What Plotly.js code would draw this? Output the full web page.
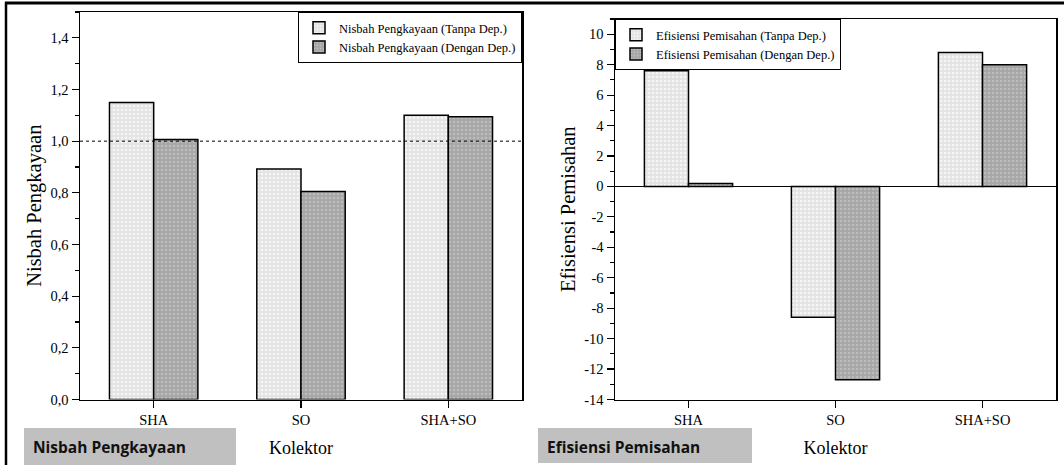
<!DOCTYPE html>
<html>
<head>
<meta charset="utf-8">
<script src="https://cdn.plot.ly/plotly-3.0.1.min.js"></script>
<style>
  html, body { margin: 0; padding: 0; background: #ffffff; }
  #chart { width: 1064px; height: 465px; }
</style>
</head>
<body>
<div id="chart"></div>
<script>
// Collector categories shared by both panels
const categories = ['SHA', 'SO', 'SHA+SO'];

// Enrichment ratio (Nisbah Pengkayaan)
const enrichNoDep = [1.150, 0.892, 1.100];
const enrichWithDep = [1.006, 0.805, 1.095];

// Separation efficiency (Efisiensi Pemisahan)
const effNoDep = [7.6, -8.6, 8.8];
const effWithDep = [0.2, -12.7, 8.0];

// Tick labels
const ratioTickVals = [0, 0.2, 0.4, 0.6, 0.8, 1.0, 1.2, 1.4];
const ratioTickText = ['0,0', '0,2', '0,4', '0,6', '0,8', '1,0', '1,2', '1,4'];
const effTickVals = [-14, -12, -10, -8, -6, -4, -2, 0, 2, 4, 6, 8, 10];
const effTickText = ['-14', '-12', '-10', '-8', '-6', '-4', '-2', '0', '2', '4', '6', '8', '10'];

// Reference level for the enrichment ratio
const ratioReference = 1.0;

// Page geometry (margins are zero, so paper coords map straight to pixels)
const W = 1064, H = 465;
const px = v => v / W;
const py = v => 1 - v / H;

const SERIF = 'Liberation Serif';
const lightFill = { bgcolor: '#e3e3e3', fgcolor: '#f6f6f6', shape: '.', size: 4, solidity: 0.35 };
const darkFill = { bgcolor: '#a6a6a6', fgcolor: '#bdbdbd', shape: '.', size: 4, solidity: 0.35 };

const traces = [
  { type: 'bar', name: 'Nisbah Pengkayaan (Tanpa Dep.)', x: categories, y: enrichNoDep,
    xaxis: 'x', yaxis: 'y', legend: 'legend',
    marker: { color: '#e3e3e3', pattern: lightFill, line: { color: '#000', width: 1.5 } } },
  { type: 'bar', name: 'Nisbah Pengkayaan (Dengan Dep.)', x: categories, y: enrichWithDep,
    xaxis: 'x', yaxis: 'y', legend: 'legend',
    marker: { color: '#a6a6a6', pattern: darkFill, line: { color: '#000', width: 1.5 } } },
  { type: 'bar', name: 'Efisiensi Pemisahan (Tanpa Dep.)', x: categories, y: effNoDep,
    xaxis: 'x2', yaxis: 'y2', legend: 'legend2',
    marker: { color: '#e3e3e3', pattern: lightFill, line: { color: '#000', width: 1.5 } } },
  { type: 'bar', name: 'Efisiensi Pemisahan (Dengan Dep.)', x: categories, y: effWithDep,
    xaxis: 'x2', yaxis: 'y2', legend: 'legend2',
    marker: { color: '#a6a6a6', pattern: darkFill, line: { color: '#000', width: 1.5 } } }
];

const tickFont = { family: SERIF, size: 14.5, color: '#000' };
const legendFont = { family: SERIF, size: 12.5, color: '#000' };
const titleFont = { family: SERIF, size: 20.5, color: '#000' };

function catAxis(domain, anchor) {
  return {
    domain: domain, anchor: anchor, type: 'category', range: [-0.5, 2.5],
    showline: true, linecolor: '#000', linewidth: 1.5, mirror: true,
    ticks: 'outside', ticklen: 7, tickwidth: 1.2, tickcolor: '#000',
    showgrid: false, zeroline: false, fixedrange: true,
    tickfont: tickFont,
    title: { text: 'Kolektor', font: { family: SERIF, size: 18, color: '#000' }, standoff: 14 }
  };
}

// Boundary ticks between categories, drawn by an overlaid linear axis
function boundaryAxis(over, anchor, domain) {
  return {
    overlaying: over, anchor: anchor, domain: domain, type: 'linear', range: [-0.5, 2.5],
    tickmode: 'array', tickvals: [0.5, 1.5], ticks: 'outside', ticklen: 4, tickwidth: 1.2,
    tickcolor: '#000', showticklabels: false, showline: false, showgrid: false, zeroline: false,
    fixedrange: true
  };
}

const xDom1 = [px(80), px(522)];
const xDom2 = [px(615), px(1056)];

const layout = {
  width: W, height: H,
  margin: { l: 0, r: 0, t: 0, b: 0, pad: 0 },
  font: { family: SERIF, size: 14.5, color: '#000' },
  paper_bgcolor: '#ffffff', plot_bgcolor: '#ffffff',
  barmode: 'group', bargap: 0.4, bargroupgap: 0,
  showlegend: true,
  xaxis: catAxis(xDom1, 'y'),
  xaxis2: catAxis(xDom2, 'y2'),
  xaxis3: boundaryAxis('x', 'y', xDom1),
  xaxis4: boundaryAxis('x2', 'y2', xDom2),
  yaxis: {
    domain: [py(399.5), py(12)], anchor: 'x', range: [0, 1.5],
    tickmode: 'array', tickvals: ratioTickVals, ticktext: ratioTickText,
    showline: true, linecolor: '#000', linewidth: 1.5, mirror: true,
    ticks: 'outside', ticklen: 7, tickwidth: 1.2, tickcolor: '#000',
    minor: { tick0: 0, dtick: 0.1, ticks: 'outside', ticklen: 4, tickwidth: 1.2, tickcolor: '#000', showgrid: false },
    showgrid: false, zeroline: false, fixedrange: true,
    tickfont: tickFont,
    title: { text: 'Nisbah Pengkayaan', font: titleFont, standoff: 3 }
  },
  yaxis2: {
    domain: [py(399.5), py(19)], anchor: 'x2', range: [-14, 11],
    tickmode: 'array', tickvals: effTickVals, ticktext: effTickText,
    showline: true, linecolor: '#000', linewidth: 1.5, mirror: true,
    ticks: 'outside', ticklen: 7, tickwidth: 1.2, tickcolor: '#000',
    minor: { tick0: 0, dtick: 1, ticks: 'outside', ticklen: 4, tickwidth: 1.2, tickcolor: '#000', showgrid: false },
    showgrid: false, zeroline: true, zerolinecolor: '#000', zerolinewidth: 1.5,
    fixedrange: true,
    tickfont: tickFont,
    title: { text: 'Efisiensi Pemisahan', font: titleFont, standoff: 3 }
  },
  legend: {
    x: px(522), xanchor: 'right', y: py(12), yanchor: 'top',
    bgcolor: '#ffffff', bordercolor: '#000', borderwidth: 1,
    font: legendFont, tracegroupgap: 0, itemwidth: 30, traceorder: 'normal'
  },
  legend2: {
    x: px(615), xanchor: 'left', y: py(19), yanchor: 'top',
    bgcolor: '#ffffff', bordercolor: '#000', borderwidth: 1,
    font: legendFont, tracegroupgap: 0, itemwidth: 30, traceorder: 'normal'
  },
  shapes: [
    // dotted reference level on the enrichment panel
    { type: 'line', xref: 'x domain', yref: 'y', x0: 0, x1: 1, y0: ratioReference, y1: ratioReference,
      line: { color: '#000', width: 1, dash: 'dot' } },
    // outer page frame (top and left edges)
    { type: 'line', xref: 'paper', yref: 'paper', x0: px(5), x1: 1, y0: py(3), y1: py(3),
      line: { color: '#000', width: 3 } },
    { type: 'line', xref: 'paper', yref: 'paper', x0: px(6), x1: px(6), y0: 0, y1: py(2),
      line: { color: '#000', width: 2.5 } },
    // grey caption boxes
    { type: 'rect', xref: 'paper', yref: 'paper', x0: px(24), x1: px(236), y0: py(465), y1: py(428),
      fillcolor: '#c0c0c0', line: { width: 0 }, layer: 'below' },
    { type: 'rect', xref: 'paper', yref: 'paper', x0: px(538), x1: px(752), y0: py(463), y1: py(428),
      fillcolor: '#c0c0c0', line: { width: 0 }, layer: 'below' }
  ],
  annotations: [
    { xref: 'paper', yref: 'paper', x: px(31), y: py(447), xanchor: 'left', yanchor: 'middle',
      text: '<b>Nisbah Pengkayaan</b>', showarrow: false,
      font: { family: 'Open Sans', size: 15.5, color: '#111' } },
    { xref: 'paper', yref: 'paper', x: px(545), y: py(447), xanchor: 'left', yanchor: 'middle',
      text: '<b>Efisiensi Pemisahan</b>', showarrow: false,
      font: { family: 'Open Sans', size: 15.5, color: '#111' } }
  ]
};

Plotly.newPlot('chart', traces, layout, { staticPlot: true, displayModeBar: false });
</script>
</body>
</html>
